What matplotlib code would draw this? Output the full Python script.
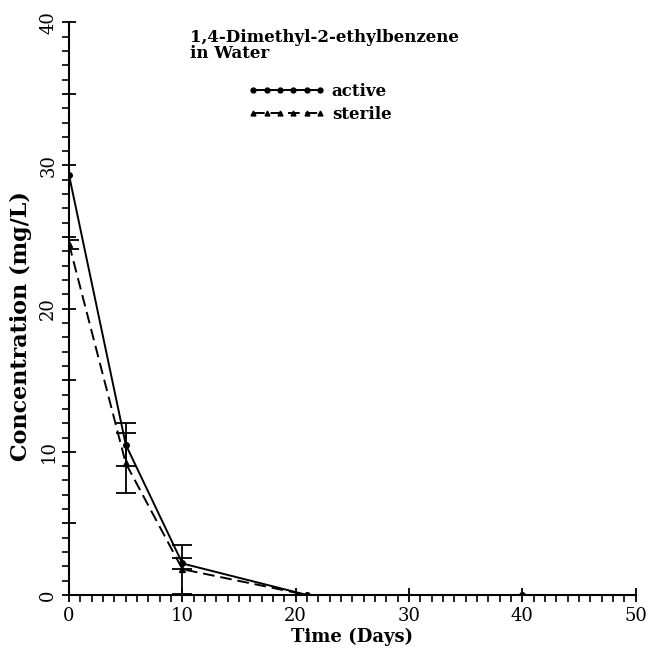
import numpy as np
import matplotlib.pyplot as plt
from matplotlib.lines import Line2D
from matplotlib.ticker import MultipleLocator, FuncFormatter

# sampling days
days = [0, 5, 10, 21, 40]

# active microcosms
active_conc = [29.3, 10.5, 2.2, 0.0, 0.0]
active_err = [0.0, 1.5, 0.4, 0.0, 0.0]

# sterile controls
sterile_conc = [24.5, 9.2, 1.8, 0.0, 0.0]
sterile_err = [0.3, 2.1, 1.7, 0.0, 0.0]

plt.rcParams["font.family"] = "DejaVu Serif"

fig = plt.figure(figsize=(6.52, 6.56), dpi=100)
ax = fig.add_axes([0.106, 0.093, 0.869, 0.873])

series = [
    (active_conc, active_err, "-", "o", "active"),
    (sterile_conc, sterile_err, (0, (6, 3)), "^", "sterile"),
]
handles = []
for conc, err, ls, mk, name in series:
    ax.plot(days, conc, color="black", linestyle=ls, linewidth=1.4,
            marker=mk, markersize=4)
    # only draw bars where a deviation was measured
    d = np.array(days)
    c = np.array(conc)
    e = np.array(err)
    keep = e > 0
    ax.errorbar(d[keep], c[keep], yerr=e[keep], fmt="none", ecolor="black",
                elinewidth=1.3, capsize=7, capthick=1.3)
    handles.append(Line2D([], [], color="black", linestyle=ls, linewidth=1.4,
                          marker=mk, markersize=3.5, label=name))

ax.set_xlim(0, 50)
ax.set_ylim(0, 40)

for side in ["top", "right"]:
    ax.spines[side].set_visible(False)
ax.spines["left"].set_linewidth(1.5)
ax.spines["bottom"].set_linewidth(1.5)

ax.xaxis.set_major_locator(MultipleLocator(10))
ax.xaxis.set_minor_locator(MultipleLocator(1))
ax.yaxis.set_major_locator(MultipleLocator(5))
ax.yaxis.set_minor_locator(MultipleLocator(1))
ax.yaxis.set_major_formatter(FuncFormatter(lambda v, p: f"{v:.0f}" if v % 10 == 0 else ""))
ax.tick_params(axis="both", which="major", direction="inout", length=10, width=1.3, labelsize=13)
ax.tick_params(axis="both", which="minor", direction="out", length=5, width=1.2)
for label in ax.get_yticklabels():
    label.set_rotation(90)
    label.set_va("center")

ax.set_xlabel("Time (Days)", fontsize=13, fontweight="bold", labelpad=2)
ax.set_ylabel("Concentration (mg/L)", fontsize=16, fontweight="bold")
ax.yaxis.set_label_coords(-0.066, 0.47)

ax.text(10.7, 39.5, "1,4-Dimethyl-2-ethylbenzene\nin Water", fontsize=12,
        fontweight="bold", va="top", ha="left", linespacing=0.9)

ax.legend(handles=handles, loc="upper left", bbox_to_anchor=(0.29, 0.92),
          frameon=False, numpoints=6, handlelength=4.6, handletextpad=0.4,
          labelspacing=0.35, prop={"weight": "bold", "size": 12})

fig.savefig("out.png", dpi=100)
